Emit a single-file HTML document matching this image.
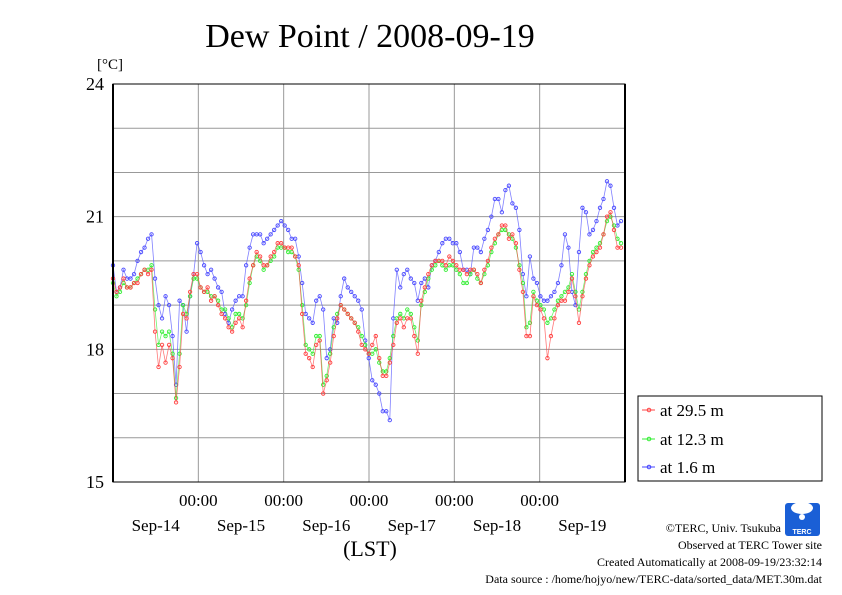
<!DOCTYPE html>
<html><head><meta charset="utf-8"><style>
html,body{margin:0;padding:0;background:#fff;}
svg{display:block;font-family:"Liberation Serif",serif;}
</style></head><body>
<svg id="chart" width="842" height="595" viewBox="0 0 842 595" xmlns="http://www.w3.org/2000/svg">
<rect x="0" y="0" width="842" height="595" fill="#fff"/>
<text x="370" y="47" font-size="34" text-anchor="middle">Dew Point / 2008-09-19</text>
<text x="97" y="69" font-size="15">[°C]</text>
<g id="grid"></g>
<g id="series"></g>
<rect x="113" y="84" width="512" height="398" fill="none" stroke="#000" stroke-width="1"/>
<line x1="113" y1="84" x2="113" y2="482" stroke="#000" stroke-width="2"/>
<line x1="625" y1="84" x2="625" y2="482" stroke="#000" stroke-width="2"/>
<g id="axes"></g>
<text x="370" y="556" font-size="22" text-anchor="middle">(LST)</text>
<g>
<rect x="638" y="396" width="184" height="85" fill="#fff" stroke="#000" stroke-width="1"/>
<g><line x1="642" y1="410" x2="655" y2="410" stroke="#f44"/><circle cx="649" cy="410" r="1.8" fill="none" stroke="#f44"/><text x="660" y="416" font-size="17">at 29.5 m</text></g>
<g><line x1="642" y1="439" x2="655" y2="439" stroke="#3e3"/><circle cx="649" cy="439" r="1.8" fill="none" stroke="#3e3"/><text x="660" y="445" font-size="17">at 12.3 m</text></g>
<g><line x1="642" y1="467" x2="655" y2="467" stroke="#44f"/><circle cx="649" cy="467" r="1.8" fill="none" stroke="#44f"/><text x="660" y="473" font-size="17">at 1.6 m</text></g>
</g>
<g>
<rect x="785" y="503" width="35" height="33" rx="3" fill="#1a5fd6"/>
<ellipse cx="802" cy="508" rx="11" ry="6" fill="#fff"/>
<circle cx="802" cy="517" r="3" fill="#fff"/>
<text x="802" y="534" font-size="7" fill="#fff" text-anchor="middle" font-family="Liberation Sans,sans-serif" font-weight="bold">TERC</text>
</g>
<g font-size="12" text-anchor="end">
<text x="781" y="532">©TERC, Univ. Tsukuba</text>
<text x="822" y="549">Observed at TERC Tower site</text>
<text x="822" y="566">Created Automatically at 2008-09-19/23:32:14</text>
<text x="822" y="583">Data source : /home/hojyo/new/TERC-data/sorted_data/MET.30m.dat</text>
</g>
</svg>
<script>
const yTicks = [15, 18, 21, 24];
const dayLabels = ["Sep-14", "Sep-15", "Sep-16", "Sep-17", "Sep-18", "Sep-19"];
const timeLabel = "00:00";
const series295 = [19.6,19.3,19.4,19.6,19.4,19.4,19.5,19.5,19.7,19.8,19.7,19.8,18.4,17.6,18.1,17.7,18.1,17.8,16.8,17.6,18.8,18.7,19.3,19.7,
19.7,19.4,19.3,19.4,19.1,19.2,19.0,18.8,18.7,18.5,18.4,18.6,18.7,18.5,19.1,19.6,19.9,20.2,20.1,19.9,19.9,20.1,20.2,20.4,
20.4,20.3,20.3,20.3,20.1,19.9,18.8,17.9,17.8,17.6,18.1,18.2,17.0,17.3,17.7,18.3,18.7,19.0,18.9,18.8,18.7,18.6,18.4,18.1,
18.0,17.9,18.1,18.3,17.8,17.4,17.4,17.7,18.1,18.6,18.7,18.5,18.7,18.7,18.3,17.9,19.1,19.4,19.7,19.9,20.0,20.0,20.0,19.9,
20.1,20.0,19.9,19.8,19.8,19.7,19.8,19.8,19.7,19.5,19.8,20.0,20.3,20.5,20.6,20.8,20.8,20.5,20.6,20.4,19.8,19.3,18.3,18.3,
19.2,19.0,18.9,18.7,17.8,18.3,18.7,19.0,19.1,19.1,19.3,19.6,19.2,18.6,19.2,19.6,19.9,20.1,20.2,20.3,20.6,21.0,21.1,20.7,20.3,20.3];
const series123 = [19.5,19.2,19.3,19.5,19.4,19.4,19.5,19.6,19.7,19.8,19.8,19.9,18.9,18.1,18.4,18.3,18.4,17.9,16.9,17.9,19.0,18.8,19.2,19.6,
19.6,19.4,19.3,19.3,19.2,19.2,19.1,18.9,18.9,18.7,18.5,18.8,18.8,18.7,19.0,19.5,19.9,20.1,20.0,19.8,19.9,20.0,20.1,20.3,
20.3,20.3,20.2,20.2,20.1,19.8,19.0,18.1,18.0,17.9,18.3,18.3,17.2,17.4,17.9,18.5,18.8,19.0,18.9,18.8,18.7,18.6,18.5,18.3,
18.1,17.9,17.9,18.0,17.7,17.5,17.5,17.8,18.3,18.7,18.8,18.7,18.9,18.8,18.5,18.2,19.0,19.3,19.6,19.8,19.9,20.0,19.9,19.8,
19.9,19.9,19.8,19.7,19.5,19.5,19.7,19.8,19.6,19.5,19.7,19.9,20.2,20.4,20.6,20.7,20.7,20.6,20.5,20.3,19.9,19.5,18.5,18.6,
19.3,19.1,19.0,18.9,18.6,18.7,18.9,19.1,19.2,19.3,19.4,19.7,19.3,18.9,19.3,19.7,20.0,20.2,20.3,20.4,20.6,20.9,21.0,20.8,20.5,20.4];
const series16 = [19.9,19.3,19.4,19.8,19.6,19.6,19.7,20.0,20.2,20.3,20.5,20.6,19.6,19.0,18.7,19.2,19.0,18.3,17.2,19.1,19.0,18.4,19.2,19.7,
20.4,20.2,19.9,19.7,19.8,19.6,19.4,19.3,18.8,18.6,18.9,19.1,19.2,19.2,19.9,20.3,20.6,20.6,20.6,20.4,20.5,20.6,20.7,20.8,
20.9,20.8,20.7,20.5,20.5,20.1,19.5,18.8,18.7,18.6,19.1,19.2,18.9,17.8,18.0,18.7,18.6,19.2,19.6,19.4,19.3,19.2,19.1,18.9,
18.2,17.8,17.3,17.2,17.0,16.6,16.6,16.4,18.7,19.8,19.4,19.7,19.8,19.6,19.5,19.1,19.5,19.6,19.4,19.9,20.0,20.2,20.4,20.5,
20.5,20.4,20.4,20.2,19.8,19.8,19.7,20.3,20.3,20.2,20.5,20.7,21.0,21.4,21.4,21.1,21.6,21.7,21.3,21.2,20.7,19.7,19.2,20.1,
19.6,19.5,19.2,19.1,19.1,19.2,19.3,19.5,19.9,20.6,20.3,19.3,19.0,20.2,21.2,21.1,20.6,20.7,20.9,21.2,21.4,21.8,21.7,21.2,20.8,20.9];

const NS = "http://www.w3.org/2000/svg";
const X0 = 113, X1 = 625, Y0 = 482, Y1 = 84, YMIN = 15, YMAX = 24, DAYS = 6;
function yScale(v){ return Y0 - (v - YMIN) / (YMAX - YMIN) * (Y0 - Y1); }
function xDay(d){ return X0 + d / DAYS * (X1 - X0); }
function mk(tag, attrs, parent){ const e = document.createElementNS(NS, tag); for (const k in attrs) e.setAttribute(k, attrs[k]); parent.appendChild(e); return e; }

const grid = document.getElementById("grid");
for (let v = YMIN + 1; v < YMAX; v++) {
  const gl = mk("line", {x1: X0, x2: X1, y1: yScale(v), y2: yScale(v), stroke: "#999", "stroke-width": 1}, grid);
  
  
}
for (let d = 1; d < DAYS; d++) {
  const vl = mk("line", {x1: xDay(d), x2: xDay(d), y1: Y1, y2: Y0, stroke: "#999", "stroke-width": 1}, grid);
  
  
}
const axes = document.getElementById("axes");
yTicks.forEach(v => {
  const t = mk("text", {x: 104, y: yScale(v) + 6, "font-size": 18, "text-anchor": "end"}, axes);
  t.textContent = v;
  
  
});
for (let d = 1; d < DAYS; d++) {
  const t = mk("text", {x: xDay(d), y: 506, "font-size": 17, "text-anchor": "middle"}, axes);
  t.textContent = timeLabel;
  
  
}
dayLabels.forEach((lab, i) => {
  const t = mk("text", {x: xDay(i + 0.5), y: 531, "font-size": 17, "text-anchor": "middle"}, axes);
  t.textContent = lab;
  
  
});

const sg = document.getElementById("series");
function drawSeries(vals, color, name){
  const g = mk("g", {}, sg);
  
  
  const step = (X1 - 4 - X0) / (vals.length - 1);
  const pts = vals.map((v, i) => [X0 + i * step, yScale(v)]);
  const pl = mk("polyline", {points: pts.map(p => p.join(",")).join(" "), fill: "none", stroke: color, "stroke-width": 0.8, "stroke-opacity": 0.7}, g);
  
  
  pts.forEach(p => {
    const c = mk("circle", {cx: p[0], cy: p[1], r: 1.7, fill: "none", stroke: color, "stroke-width": 0.9}, g);
    
    
  });
}
drawSeries(series16, "#4a4aff", "series-1.6m");
drawSeries(series123, "#33ee33", "series-12.3m");
drawSeries(series295, "#ff4040", "series-29.5m");
</script>
</body></html>
